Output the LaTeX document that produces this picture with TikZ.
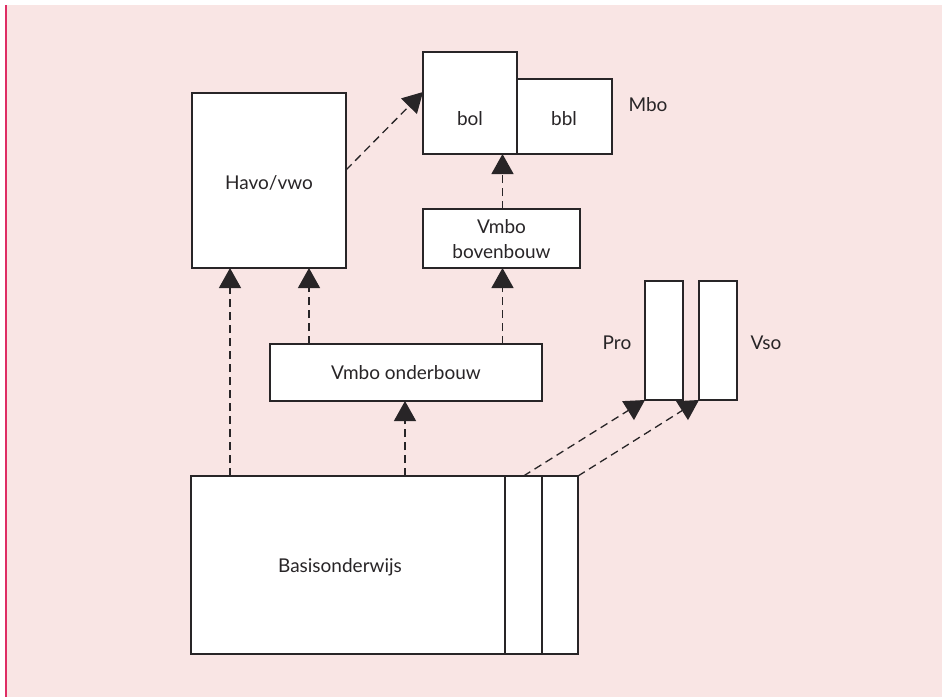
\documentclass[tikz,border=0pt]{standalone}
\usepackage{fontspec}
\setmainfont{Lato}
\usetikzlibrary{arrows.meta}
\definecolor{bgpink}{RGB}{249,229,228}
\definecolor{edgered}{RGB}{222,45,100}
\definecolor{ink}{RGB}{40,37,39}
\tikzset{
  box/.style={draw=ink,line width=1.4pt,fill=white},
  lbl/.style={text=ink,font=\fontsize{19}{23}\selectfont},
  flow/.style={draw=ink,line width=1.3pt,dash pattern=on 8pt off 5pt,
    arrows={-Triangle[width=22pt,length=20pt]}}
}
\begin{document}
\begin{tikzpicture}[x=1pt,y=-1pt]
\useasboundingbox (0,0) rectangle (942,697);
\fill[white] (0,0) rectangle (942,697);
\fill[bgpink] (6,5) rectangle (942,697);
\draw[edgered,line width=2pt] (6,5) -- (6,697);
% boxes
\draw[box] (192,93) rectangle (346,268);
\node[lbl] (havo) at (269,183) {Havo/vwo};
\draw[box] (423,52) rectangle (517,154);
\draw[box] (517,79) rectangle (612,154);
\node[lbl] (bol) at (470,119) {bol};
\node[lbl] (bbl) at (564,119) {bbl};
\node[lbl] (mbo) at (648,105) {Mbo};
\draw[box] (423,209) rectangle (580,268);
\node[lbl,align=center] (bov) at (501.5,239) {Vmbo\\[2pt]bovenbouw};
\draw[box] (270,344) rectangle (542,401);
\node[lbl] (ond) at (406,373) {Vmbo onderbouw};
\draw[box] (191,476) rectangle (505,654);
\draw[box] (505,476) rectangle (542,654);
\draw[box] (542,476) rectangle (578,654);
\node[lbl] (basis) at (340,567) {Basisonderwijs};
\draw[box] (645,281) rectangle (683,400);
\draw[box] (699,281) rectangle (737,400);
\node[lbl] (pro) at (617,343) {Pro};
\node[lbl] (vso) at (766,343) {Vso};
% anchor coordinates
\coordinate (b1) at (230,476);   \coordinate (h1) at (230,268);
\coordinate (o1) at (309,344);   \coordinate (h2) at (309,268);
\coordinate (o2) at (502.5,344); \coordinate (v1) at (502.5,268);
\coordinate (b2) at (405,476);   \coordinate (o3) at (405,401);
\coordinate (v2) at (502.5,209); \coordinate (bl1) at (502.5,154);
\coordinate (h3) at (346,170);   \coordinate (bl2) at (423,92);
\coordinate (b3) at (523.5,476); \coordinate (p1) at (645,400);
\coordinate (b4) at (578,476);   \coordinate (s1) at (699,400);
% connectors
\draw[flow] (b1) -- (h1);
\draw[flow] (o1) -- (h2);
\draw[flow] (o2) -- (v1);
\draw[flow] (b2) -- (o3);
\draw[flow] (v2) -- (bl1);
\draw[flow] (h3) -- (bl2);
\draw[flow] (b3) -- (p1);
\draw[flow] (b4) -- (s1);
\end{tikzpicture}
\end{document}
